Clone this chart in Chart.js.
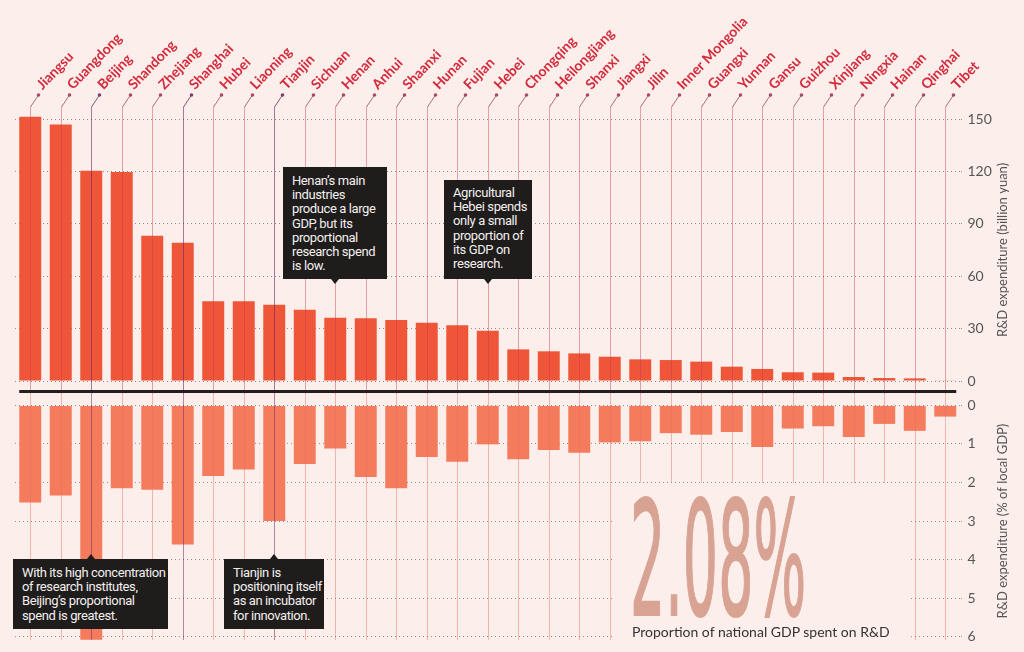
<!DOCTYPE html>
<html lang="en">
<head>
<meta charset="UTF-8">
<meta name="viewport" content="width=device-width, initial-scale=1.0">
<title>R&amp;D expenditure by province</title>
<script src="https://cdn.jsdelivr.net/npm/chart.js"></script>
<style>
    html, body { margin: 0; padding: 0; background: #fcefeb; }
    #wrap { position: relative; width: 1024px; height: 652px; overflow: hidden; background: #fcefeb; }
    #topBox { position: absolute; left: 0; top: 0; }
    #bottomBox { position: absolute; left: 0; top: 394px; }
    .note {
        position: absolute; box-sizing: border-box;
        background: #1f1c1c; color: #f3efee;
        font-family: Roboto, "Noto Sans", sans-serif; font-size: 13px; line-height: 14.2px;
        letter-spacing: -0.4px;
        padding: 7px 0 0 9px; white-space: nowrap;
    }
    .note::after {
        content: ""; position: absolute; width: 0; height: 0;
        left: calc(var(--px) - 4px);
        border-left: 4px solid transparent; border-right: 4px solid transparent;
    }
    .note.down::after { top: 100%; border-top: 5px solid #1f1c1c; }
    .note.up::after { bottom: 100%; border-bottom: 5px solid #1f1c1c; }
    #cover { position: absolute; left: 613px; top: 483px; width: 298px; height: 169px; background: #fcefeb; }
    #bigNum {
        position: absolute; left: 630px; top: 481px;
        font-family: "Liberation Sans Narrow", "DejaVu Sans Condensed", sans-serif; font-weight: normal;
        font-size: 158px; line-height: 159px; color: #d9a394;
        -webkit-text-stroke: 2px #d9a394;
        transform: scaleX(0.39); transform-origin: left top; white-space: nowrap;
    }
    #bigCap {
        position: absolute; left: 632px; top: 623px;
        font-family: Lato, Roboto, sans-serif; font-size: 14px; color: #333;
        white-space: nowrap;
    }
</style>
</head>
<body>
<div id="wrap">
    <div id="topBox"><canvas id="spendChart" width="1024" height="394"></canvas></div>
    <div id="bottomBox"><canvas id="shareChart" width="1024" height="258"></canvas></div>

    <!-- notes -->
    <div class="note down" style="left:283px;top:167px;width:104px;height:112px;--px:52px;">Henan’s main<br>industries<br>produce a large<br>GDP, but its<br>proportional<br>research spend<br>is low.</div>
    <div class="note down" style="left:444px;top:180px;width:88px;height:99px;padding-top:6px;--px:44px;">Agricultural<br>Hebei spends<br>only a small<br>proportion of<br>its GDP on<br>research.</div>
    <div class="note up" style="left:13px;top:559px;width:155px;height:70px;--px:78px;">With its high concentration<br>of research institutes,<br>Beijing’s proportional<br>spend is greatest.</div>
    <div class="note up" style="left:224px;top:559px;width:100px;height:70px;--px:50px;">Tianjin is<br>positioning itself<br>as an incubator<br>for innovation.</div>

    <div id="cover"></div>
    <div id="bigNum">2.08%</div>
    <div id="bigCap">Proportion of national GDP spent on R&amp;D</div>
</div>

<script>
    // provinces, sorted by R&D spend
    const provinces = ['Jiangsu', 'Guangdong', 'Beijing', 'Shandong', 'Zhejiang', 'Shanghai', 'Hubei', 'Liaoning',
        'Tianjin', 'Sichuan', 'Henan', 'Anhui', 'Shaanxi', 'Hunan', 'Fujian', 'Hebei', 'Chongqing', 'Heilongjiang',
        'Shanxi', 'Jiangxi', 'Jilin', 'Inner Mongolia', 'Guangxi', 'Yunnan', 'Gansu', 'Guizhou', 'Xinjiang',
        'Ningxia', 'Hainan', 'Qinghai', 'Tibet'];

    // R&D expenditure, billion yuan
    const spendBillion = [151.3, 146.9, 120.4, 119.6, 83.2, 79.2, 45.6, 45.6, 43.7, 40.8, 36.2, 35.9, 34.9, 33.4,
        31.9, 28.8, 18.1, 17.0, 15.8, 13.9, 12.4, 12.0, 11.1, 8.2, 6.9, 5.0, 4.8, 2.3, 1.7, 1.5, 0.2];

    // R&D expenditure, % of local GDP
    const shareOfGdp = [2.52, 2.34, 6.08, 2.15, 2.19, 3.61, 1.83, 1.66, 3.00, 1.52, 1.12, 1.86, 2.15, 1.34,
        1.46, 1.01, 1.40, 1.16, 1.23, 0.96, 0.93, 0.72, 0.76, 0.69, 1.08, 0.60, 0.54, 0.82, 0.48, 0.66, 0.29];

    const spendTicks = [0, 30, 60, 90, 120, 150];
    const shareTicks = [0, 1, 2, 3, 4, 5, 6];

    const darkStems = ['Beijing', 'Shanghai', 'Tianjin'];

    // vertical stems behind each province, plus the little leader up to the label
    const stemPlugin = {
        id: 'stems',
        afterDatasetsDraw(chart, args, opts) {
            const { ctx, chartArea, scales: { x } } = chart;
            ctx.save();
            ctx.lineWidth = 1;
            provinces.forEach((name, i) => {
                const px = Math.round(x.getPixelForValue(i)) + 0.5;
                const dark = darkStems.includes(name);
                ctx.strokeStyle = dark ? opts.darkColor : opts.color;
                const top = opts.leader ? chartArea.top - 12 : 0;
                ctx.beginPath();
                ctx.moveTo(px, top);
                ctx.lineTo(px, opts.bottom);
                ctx.stroke();
                if (opts.leader) {
                    ctx.strokeStyle = dark ? '#8e4f78' : '#b8677a';
                    ctx.beginPath();
                    ctx.moveTo(px, top);
                    ctx.lineTo(px + 8, top - 12);
                    ctx.stroke();
                    ctx.fillStyle = dark ? '#7d3e6a' : '#a84a63';
                    ctx.beginPath();
                    ctx.arc(px + 8, top - 12, 1.8, 0, Math.PI * 2);
                    ctx.fill();
                }
            });
            if (opts.baseline) {
                const l = x.getPixelForValue(0) - 11;
                const r = x.getPixelForValue(provinces.length - 1) + 11;
                ctx.fillStyle = '#231f20';
                ctx.fillRect(l, 390, r - l, 3);
            }
            ctx.restore();
        }
    };

    // right-hand axis title, reading bottom to top
    const sideTitle = {
        id: 'sideTitle',
        afterDraw(chart, args, opts) {
            const { ctx, chartArea } = chart;
            ctx.save();
            ctx.translate(1003, (chartArea.top + chartArea.bottom) / 2);
            ctx.rotate(-Math.PI / 2);
            ctx.fillStyle = '#555';
            ctx.font = '13px Lato, Roboto, sans-serif';
            ctx.textAlign = 'center';
            ctx.textBaseline = 'middle';
            ctx.fillText(opts.text, 0, 0);
            ctx.restore();
        }
    };

    const yAxisBase = (ticks, extra) => Object.assign({
        position: 'right',
        min: ticks[0],
        max: ticks[ticks.length - 1],
        afterBuildTicks: axis => { axis.ticks = ticks.map(v => ({ value: v })); },
        afterFit: axis => { axis.width = 63.5; },
        grid: { color: '#958a87', lineWidth: 1, drawTicks: true, tickLength: 4, tickBorderDash: [1, 3] },
        border: { display: false, dash: [1, 3] },
        ticks: { color: '#555', padding: 3, font: { family: 'Lato, Roboto, sans-serif', size: 14 } }
    }, extra);

    Chart.defaults.animation = false;

    new Chart(document.getElementById('spendChart'), {
        type: 'bar',
        data: {
            labels: provinces,
            datasets: [{
                data: spendBillion,
                backgroundColor: '#ef5538',
                barPercentage: 0.72,
                categoryPercentage: 1,
                clip: false
            }]
        },
        options: {
            responsive: false,
            layout: { padding: { left: 15, right: 0, top: 0, bottom: 13 } },
            plugins: {
                legend: { display: false },
                tooltip: { enabled: false },
                stems: { color: 'rgba(200, 60, 80, 0.45)', darkColor: 'rgba(110, 40, 100, 0.6)', bottom: 394, leader: true, baseline: true },
                sideTitle: { text: 'R&D expenditure (billion yuan)' }
            },
            scales: {
                x: {
                    position: 'top',
                    afterFit: axis => {
                        axis.height = 119;
                        axis.paddingLeft = 0;
                        axis.paddingRight = 0;
                    },
                    grid: { display: false, drawTicks: false },
                    border: { display: false },
                    ticks: {
                        autoSkip: false,
                        minRotation: 46,
                        maxRotation: 46,
                        labelOffset: 21,
                        padding: 26,
                        color: '#d42a3c',
                        font: { family: 'Lato, Roboto, sans-serif', size: 14, weight: 'bold' }
                    }
                },
                y: yAxisBase(spendTicks, {})
            }
        },
        plugins: [stemPlugin, sideTitle]
    });

    new Chart(document.getElementById('shareChart'), {
        type: 'bar',
        data: {
            labels: provinces,
            datasets: [{
                data: shareOfGdp,
                backgroundColor: '#f47b5c',
                barPercentage: 0.72,
                categoryPercentage: 1,
                clip: false
            }]
        },
        options: {
            responsive: false,
            layout: { padding: { left: 15, right: 0, top: 10.3, bottom: 15.3 } },
            plugins: {
                legend: { display: false },
                tooltip: { enabled: false },
                stems: { color: 'rgba(225, 110, 100, 0.45)', darkColor: 'rgba(120, 50, 100, 0.55)', bottom: 246, leader: false, baseline: false },
                sideTitle: { text: 'R&D expenditure (% of local GDP)' }
            },
            scales: {
                x: { display: false },
                y: yAxisBase(shareTicks, { reverse: true })
            }
        },
        plugins: [stemPlugin, sideTitle]
    });
</script>
</body>
</html>
